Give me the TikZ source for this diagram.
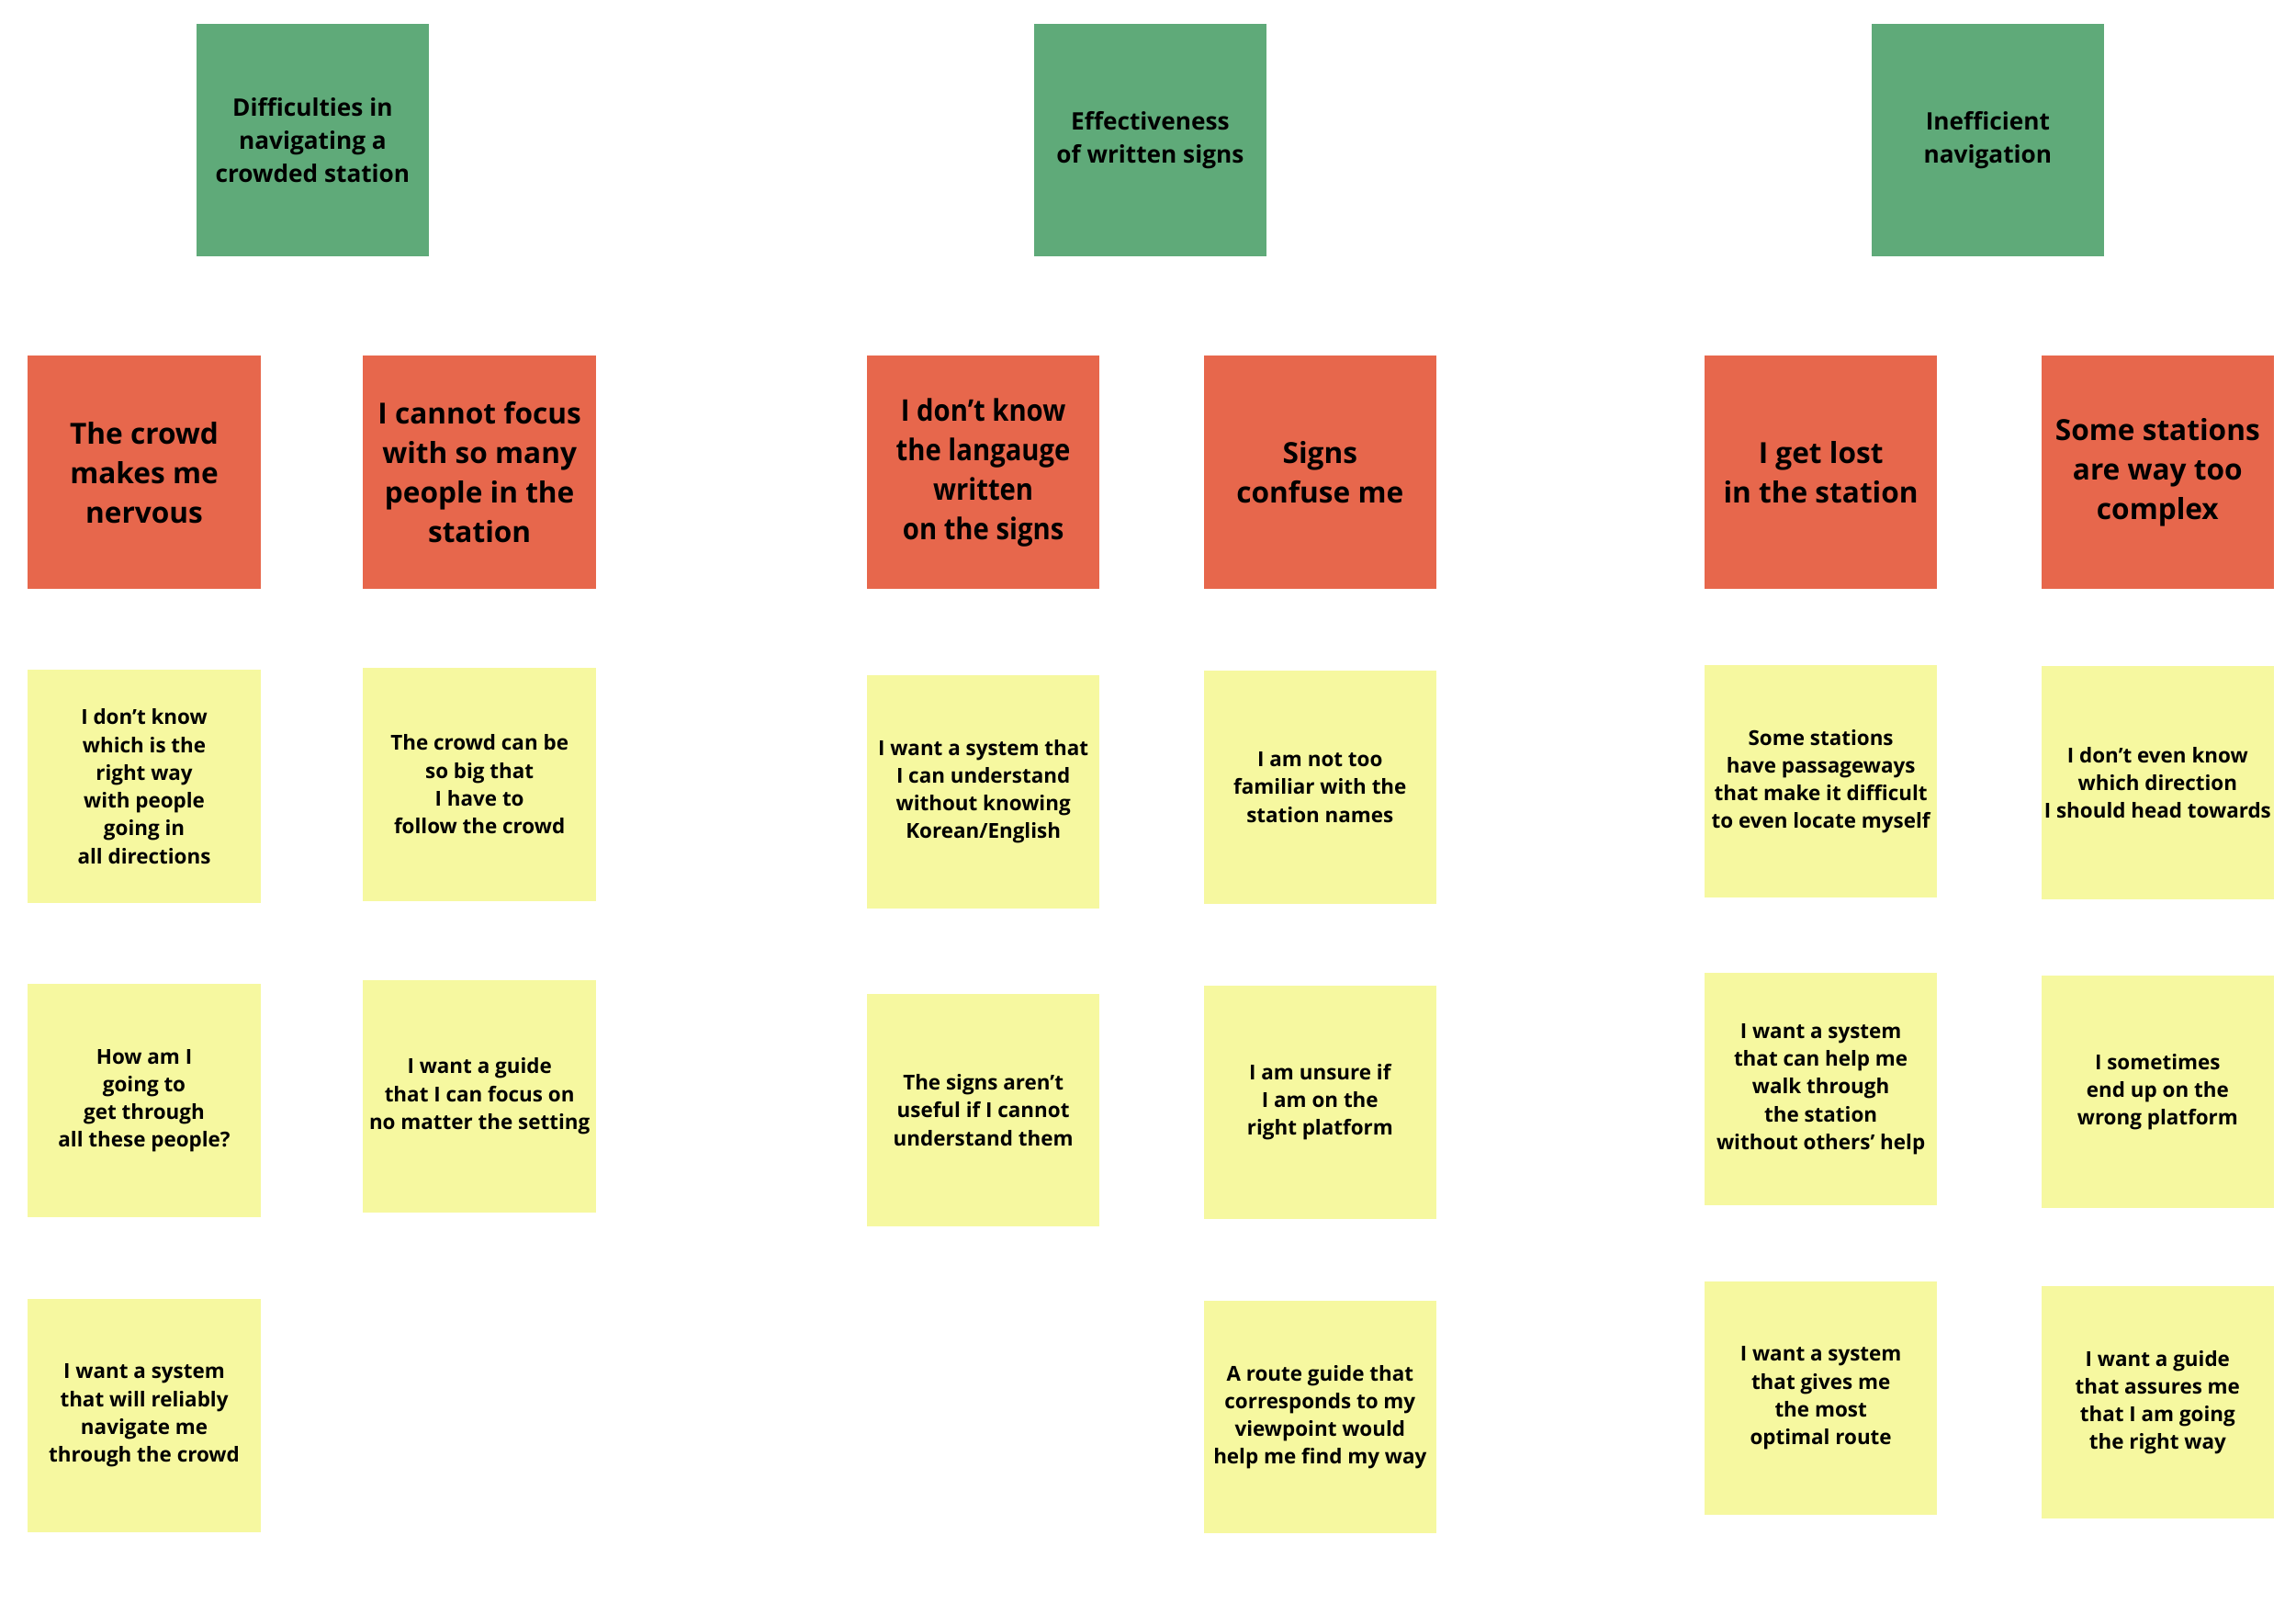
\documentclass[tikz,border=0pt]{standalone}
\usepackage{fontspec}
\setmainfont{Open Sans}
\newfontfamily\condsans{Open Sans}[FakeStretch=0.9]
\usetikzlibrary{positioning}
\definecolor{themegreen}{HTML}{5FAA79}
\definecolor{painred}{HTML}{E7674C}
\definecolor{noteyellow}{HTML}{F6F8A0}
\tikzset{
  themebox/.style={fill=themegreen,minimum size=79.5mm,inner sep=0pt,align=center,
    font=\fontsize{23.4}{32}\selectfont\bfseries},
  painbox/.style={fill=painred,minimum size=79.5mm,inner sep=0pt,align=center,
    font=\fontsize{28.2}{38.4}\selectfont\bfseries},
  notebox/.style={fill=noteyellow,minimum size=79.5mm,inner sep=0pt,align=center,
    font=\fontsize{20}{27}\selectfont\bfseries},
}
\begin{document}
\begin{tikzpicture}[x=0.5mm,y=-0.5mm]
  \path[use as bounding box] (0,0) rectangle (1568,1094);
  % themes
  \foreach \k/\x/\txt in {1/213.5/{Difficulties in\\navigating a\\crowded station},
      2/785.5/{Effectiveness\\of written signs},3/1357.5/{Inefficient\\navigation}}
    {\node[themebox] (theme\k) at (\x,95.5) {\txt};}
  % pain points
  \node[painbox] (pain1) at (98.5,322.5) {The crowd\\makes me\\nervous};
  \node[painbox] (pain2) at (327.5,322.5) {I cannot focus\\with so many\\people in the\\station};
  \node[painbox,font=\condsans\fontsize{29}{38.4}\selectfont\bfseries] (pain3) at (671.5,322.5)
    {I don’t know\\the langauge\\written\\on the signs};
  \node[painbox] (pain4) at (901.5,322.5) {Signs\\confuse me};
  \node[painbox] (pain5) at (1243.5,322.5) {I get lost\\in the station};
  \node[painbox] (pain6) at (1473.5,322.5) {Some stations\\are way too\\complex};
  % notes
  \node[notebox] (note1a) at (98.5,537) {I don’t know\\which is the\\right way\\with people\\going in\\all directions};
  \node[notebox] (note1b) at (98.5,751.5) {How am I\\going to\\get through\\all these people?};
  \node[notebox] (note1c) at (98.5,966.5) {I want a system\\that will reliably\\navigate me\\through the crowd};
  \node[notebox] (note2a) at (327.5,535.5) {The crowd can be\\so big that\\I have to\\follow the crowd};
  \node[notebox] (note2b) at (327.5,748.5) {I want a guide\\that I can focus on\\no matter the setting};
  \node[notebox] (note3a) at (671.5,540.5) {I want a system that\\I can understand\\without knowing\\Korean/English};
  \node[notebox] (note3b) at (671.5,758) {The signs aren’t\\useful if I cannot\\understand them};
  \node[notebox] (note4a) at (901.5,537.5) {I am not too\\familiar with the\\station names};
  \node[notebox] (note4b) at (901.5,752.5) {I am unsure if\\I am on the\\right platform};
  \node[notebox] (note4c) at (901.5,967.5) {A route guide that\\corresponds to my\\viewpoint would\\help me find my way};
  \node[notebox] (note5a) at (1243.5,533.5) {Some stations\\have passageways\\that make it difficult\\to even locate myself};
  \node[notebox] (note5b) at (1243.5,743.5) {I want a system\\that can help me\\walk through\\the station\\without others’ help};
  \node[notebox] (note5c) at (1243.5,954.5) {I want a system\\that gives me\\the most\\optimal route};
  \node[notebox] (note6a) at (1473.5,534.5) {I don’t even know\\which direction\\I should head towards};
  \node[notebox] (note6b) at (1473.5,745.5) {I sometimes\\end up on the\\wrong platform};
  \node[notebox] (note6c) at (1473.5,957.5) {I want a guide\\that assures me\\that I am going\\the right way};
\end{tikzpicture}
\end{document}
